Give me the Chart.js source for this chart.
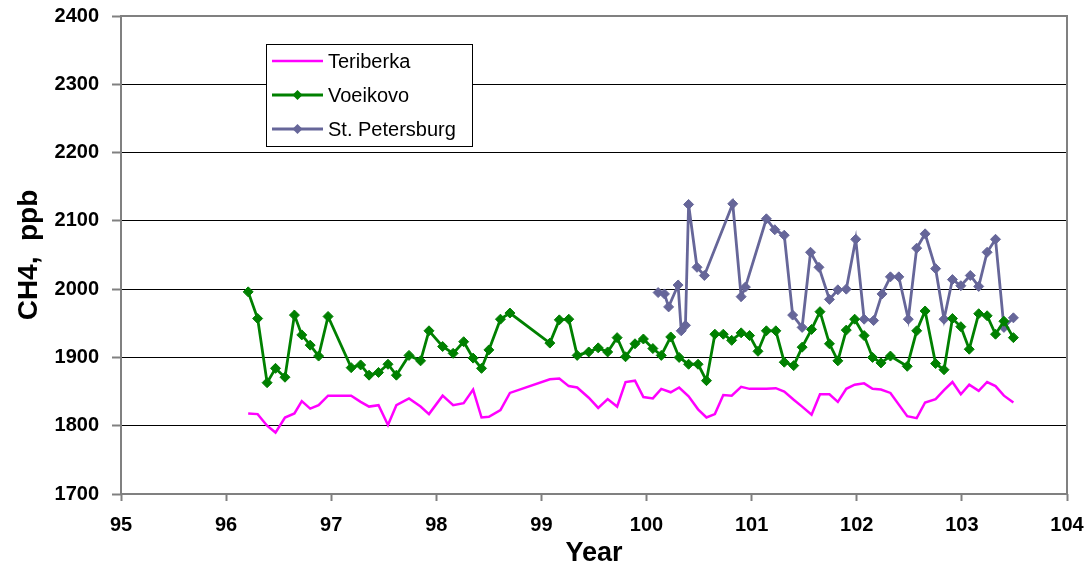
<!DOCTYPE html>
<html>
<head>
<meta charset="utf-8">
<script src="https://cdn.jsdelivr.net/npm/chart.js@4/dist/chart.umd.min.js"></script>
<style>
  html, body { margin: 0; padding: 0; background: #fff; }
  #wrap { width: 1090px; height: 570px; position: relative; }
</style>
</head>
<body>
<div id="wrap"><canvas id="ch4Chart"></canvas></div>
<script>
// ===== DATA =====
// monthly sample times (year - 1900) shared by Teriberka and Voeikovo
const monthYears = [
  96.21, 96.30, 96.39, 96.47, 96.56, 96.65, 96.72, 96.80, 96.88, 96.97,
  97.19, 97.28, 97.36, 97.45, 97.54, 97.62, 97.74, 97.85, 97.93, 98.06,
  98.16, 98.26, 98.35, 98.43, 98.50, 98.61, 98.70, 99.08, 99.17, 99.26,
  99.34, 99.45, 99.54, 99.63, 99.72, 99.80, 99.89, 99.97, 100.06, 100.14,
  100.23, 100.31, 100.40, 100.49, 100.57, 100.65, 100.73, 100.81, 100.90, 100.98,
  101.06, 101.14, 101.23, 101.31, 101.40, 101.48, 101.57, 101.65, 101.74, 101.82,
  101.90, 101.98, 102.07, 102.15, 102.23, 102.32, 102.48, 102.57, 102.65, 102.75,
  102.83, 102.91, 102.99, 103.07, 103.16, 103.24, 103.32, 103.40, 103.49
];

const teriberka = [
  1818, 1817, 1800, 1790, 1812, 1818, 1836, 1825, 1830, 1844,
  1844, 1835, 1828, 1830, 1801, 1830, 1840, 1828, 1817, 1844,
  1830, 1833, 1853, 1812, 1813, 1823, 1848, 1868, 1869, 1858,
  1856, 1841, 1826, 1839, 1828, 1864, 1866, 1842, 1840, 1854,
  1849, 1856, 1843, 1824, 1812, 1817, 1845, 1844, 1857, 1854,
  1854, 1854, 1855, 1850, 1838, 1828, 1816, 1846, 1846, 1835,
  1854, 1860, 1862, 1854, 1853, 1848, 1814, 1811, 1834, 1839,
  1852, 1864, 1846, 1860, 1851, 1864, 1858, 1844, 1834
];

const voeikovo = [
  1996, 1957, 1863, 1884, 1871, 1962, 1933, 1918, 1902, 1960,
  1885, 1889, 1874, 1878, 1890, 1874, 1903, 1895, 1939, 1916,
  1906, 1923, 1899, 1884, 1911, 1956, 1965, 1921, 1955, 1956,
  1903, 1908, 1914, 1908, 1929, 1901, 1920, 1927, 1913, 1903,
  1930, 1900, 1890, 1890, 1866, 1934, 1934, 1925, 1936, 1932,
  1909, 1939, 1939, 1893, 1888, 1915, 1941, 1967, 1920, 1895,
  1940, 1956, 1932, 1900, 1892, 1902, 1887, 1939, 1968, 1891,
  1882, 1957, 1945, 1912, 1964, 1961, 1934, 1953, 1929
];

const spbYears = [
  100.11, 100.17, 100.21, 100.30, 100.33, 100.37, 100.40, 100.48, 100.55, 100.82,
  100.90, 100.94, 101.14, 101.22, 101.31, 101.39, 101.48, 101.56, 101.64, 101.74,
  101.82, 101.90, 101.99, 102.07, 102.16, 102.24, 102.32, 102.40, 102.49, 102.57,
  102.65, 102.75, 102.83, 102.91, 102.99, 103.08, 103.16, 103.24, 103.32, 103.40,
  103.49
];

const stPetersburg = [
  1995, 1993, 1974, 2006, 1939, 1947, 2124, 2032, 2020, 2125,
  1989, 2003, 2103, 2087, 2079, 1962, 1944, 2054, 2032, 1985,
  1999, 2000, 2073, 1956, 1954, 1993, 2018, 2018, 1956, 2060,
  2081, 2030, 1956, 2014, 2005, 2020, 2004, 2054, 2073, 1944,
  1958
];

const xTicks = [95, 96, 97, 98, 99, 100, 101, 102, 103, 104];
const yTicks = [1700, 1800, 1900, 2000, 2100, 2200, 2300, 2400];

const toPoints = (xs, ys) => xs.map((x, i) => ({ x: x, y: ys[i] }));

const FONT = "'Liberation Sans', Arial, sans-serif";
const AXIS_GRAY = "#808080";

// ===== legend box drawn inside the plot =====
const boxLegend = {
  id: "boxLegend",
  afterDatasetsDraw(chart, args, opts) {
    const ctx = chart.ctx;
    ctx.save();
    ctx.fillStyle = "#fff";
    ctx.fillRect(opts.x, opts.y, opts.w, opts.h);
    ctx.strokeStyle = "#000";
    ctx.lineWidth = 1;
    ctx.strokeRect(opts.x + 0.5, opts.y + 0.5, opts.w, opts.h);
    ctx.font = "20px " + FONT;
    ctx.textBaseline = "middle";
    chart.data.datasets.forEach((ds, i) => {
      const cy = opts.y + opts.rowTop + i * opts.rowGap;
      const x0 = opts.x + 6, x1 = opts.x + 57;
      ctx.strokeStyle = ds.borderColor;
      ctx.lineWidth = ds.borderWidth;
      ctx.beginPath();
      ctx.moveTo(x0, cy);
      ctx.lineTo(x1, cy);
      ctx.stroke();
      if (ds.pointRadius > 0) {
        const m = (x0 + x1) / 2, r = ds.pointRadius;
        ctx.fillStyle = ds.pointBackgroundColor;
        ctx.beginPath();
        ctx.moveTo(m, cy - r);
        ctx.lineTo(m + r, cy);
        ctx.lineTo(m, cy + r);
        ctx.lineTo(m - r, cy);
        ctx.closePath();
        ctx.fill();
      }
      ctx.fillStyle = "#000";
      ctx.fillText(ds.label, opts.x + 62, cy + 1);
    });
    ctx.restore();
  }
};

// ===== gray frame round the plot area =====
const plotFrame = {
  id: "plotFrame",
  beforeDatasetsDraw(chart) {
    const a = chart.chartArea;
    const ctx = chart.ctx;
    ctx.save();
    ctx.strokeStyle = AXIS_GRAY;
    ctx.lineWidth = 2;
    ctx.strokeRect(a.left, a.top, a.right - a.left, a.bottom - a.top);
    ctx.restore();
  }
};

const ctx = document.getElementById("ch4Chart").getContext("2d");

new Chart(ctx, {
  type: "line",
  data: {
    datasets: [
      {
        label: "Teriberka",
        data: toPoints(monthYears, teriberka),
        borderColor: "#ff00ff",
        backgroundColor: "#ff00ff",
        borderWidth: 2.5,
        pointRadius: 0,
        tension: 0
      },
      {
        label: "Voeikovo",
        data: toPoints(monthYears, voeikovo),
        borderColor: "#008000",
        backgroundColor: "#008000",
        pointBackgroundColor: "#008000",
        pointBorderColor: "#008000",
        borderWidth: 2.8,
        pointStyle: "rectRot",
        pointRadius: 5,
        pointBorderWidth: 1,
        tension: 0
      },
      {
        label: "St. Petersburg",
        data: toPoints(spbYears, stPetersburg),
        borderColor: "#666699",
        backgroundColor: "#666699",
        pointBackgroundColor: "#666699",
        pointBorderColor: "#666699",
        borderWidth: 2.8,
        pointStyle: "rectRot",
        pointRadius: 5,
        pointBorderWidth: 1,
        tension: 0
      }
    ]
  },
  options: {
    responsive: true,
    maintainAspectRatio: false,
    animation: false,
    layout: {
      padding: { top: 16, right: 23, left: 0, bottom: 0 }
    },
    plugins: {
      legend: { display: false },
      tooltip: { enabled: false },
      boxLegend: { x: 266, y: 44, w: 206, h: 102, rowTop: 17, rowGap: 34 }
    },
    scales: {
      x: {
        type: "linear",
        min: 95,
        max: 104,
        afterBuildTicks: scale => { scale.ticks = xTicks.map(v => ({ value: v })); },
        afterFit: scale => {
          scale.height = 76;
          scale.paddingLeft = 0;
          scale.paddingRight = 0;
        },
        border: { display: false },
        grid: {
          drawOnChartArea: false,
          tickLength: 7,
          tickColor: AXIS_GRAY,
          tickWidth: 2
        },
        ticks: {
          color: "#000",
          padding: 12,
          maxRotation: 0,
          callback: v => String(v),
          font: { family: FONT, size: 20, weight: "bold" }
        },
        title: {
          display: true,
          text: "Year",
          color: "#000",
          padding: { top: 0, bottom: 0 },
          font: { family: FONT, size: 27, weight: "bold" }
        }
      },
      y: {
        min: 1700,
        max: 2400,
        afterBuildTicks: scale => { scale.ticks = yTicks.map(v => ({ value: v })); },
        afterFit: scale => {
          scale.width = 121;
          scale.paddingTop = 0;
          scale.paddingBottom = 0;
        },
        border: { display: false },
        grid: {
          color: "#000",
          lineWidth: 1,
          tickLength: 9,
          tickColor: AXIS_GRAY,
          tickWidth: 2
        },
        ticks: {
          color: "#000",
          padding: 13,
          callback: v => String(v),
          font: { family: FONT, size: 20, weight: "bold" }
        },
        title: {
          display: true,
          text: "CH4,  ppb",
          color: "#000",
          padding: { top: 12, bottom: 0 },
          font: { family: FONT, size: 28, weight: "bold" }
        }
      }
    }
  },
  plugins: [plotFrame, boxLegend]
});
</script>
</body>
</html>
